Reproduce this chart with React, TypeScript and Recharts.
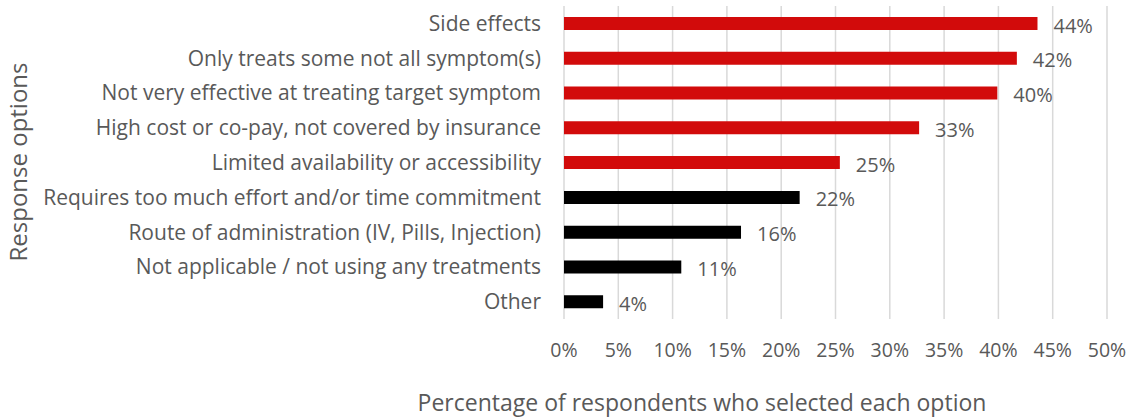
import { Bar, BarChart, CartesianGrid, Cell, LabelList, XAxis, YAxis } from 'recharts'

const options = [
  'Side effects',
  'Only treats some not all symptom(s)',
  'Not very effective at treating target symptom',
  'High cost or co-pay, not covered by insurance',
  'Limited availability or accessibility',
  'Requires too much effort and/or time commitment',
  'Route of administration (IV, Pills, Injection)',
  'Not applicable / not using any treatments',
  'Other',
]
const shares = [43.6, 41.7, 39.9, 32.7, 25.4, 21.7, 16.3, 10.8, 3.6]
const xTicks = [0, 5, 10, 15, 20, 25, 30, 35, 40, 45, 50]

const RED = '#d20b0b'
const BLACK = '#000000'
const TEXT = '#595959'
const FONT = '"Open Sans", sans-serif'

const data = options.map((option, i) => ({ option, share: shares[i] }))

function YTitle() {
  return (
    <text
      x={17}
      y={162}
      transform="rotate(-90 17 162)"
      textAnchor="middle"
      dominantBaseline="central"
      fill={TEXT}
      fontSize={24}
      fontFamily={FONT}
    >
      Response options
    </text>
  )
}

function XTitle() {
  return (
    <text x={702} y={402} textAnchor="middle" dominantBaseline="central" fill={TEXT} fontSize={23} fontFamily={FONT}>
      Percentage of respondents who selected each option
    </text>
  )
}

export default function App() {
  return (
    <div style={{ position: 'absolute', left: 0, top: 0, background: '#fff' }}>
      <BarChart
        width={1133}
        height={418}
        data={data}
        layout="vertical"
        margin={{ top: 6, right: 26, bottom: 0, left: 0 }}
      >
        <CartesianGrid horizontal={false} stroke="#d9d9d9" strokeWidth={1.5} />
        <XAxis
          type="number"
          domain={[0, 50]}
          ticks={xTicks}
          tickFormatter={(v) => `${v}%`}
          axisLine={false}
          tickLine={false}
          tickSize={0}
          tickMargin={24}
          height={99}
          interval={0}
          tick={{ fill: TEXT, fontSize: 19.5, fontFamily: FONT }}
          label={{ content: () => <XTitle /> }}
        />
        <YAxis
          type="category"
          dataKey="option"
          width={564}
          axisLine={false}
          tickLine={false}
          tickSize={0}
          tickMargin={23}
          interval={0}
          tick={{ fill: TEXT, fontSize: 21, fontFamily: FONT }}
          label={{ content: () => <YTitle /> }}
        />
        <Bar dataKey="share" barSize={13} isAnimationActive={false}>
          {data.map((d, i) => (
            <Cell key={d.option} fill={i < 5 ? RED : BLACK} />
          ))}
          <LabelList
            dataKey="share"
            position="right"
            offset={16}
            dy={2}
            formatter={(v: number) => `${Math.round(v)}%`}
            style={{ fill: TEXT, fontSize: 20, fontFamily: FONT }}
          />
        </Bar>
      </BarChart>
    </div>
  )
}
